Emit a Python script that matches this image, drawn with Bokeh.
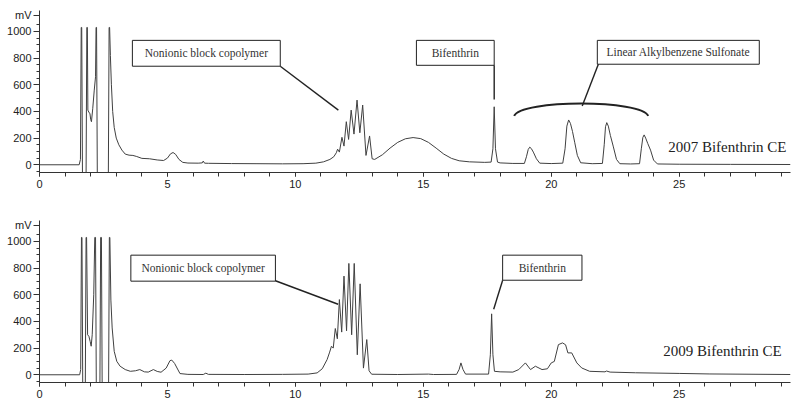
from bokeh.plotting import figure
from bokeh.layouts import column
from bokeh.models import Range1d, FixedTicker
from bokeh.core.properties import value
from bokeh.embed import file_html
from bokeh.resources import INLINE

# ---------------- data: 2007 chromatogram (time in min, signal in mV) ----------------
t2007 = [0.0, 1.55, 1.60, 1.63, 1.65, 1.68, 1.82, 1.85, 1.87, 1.89, 1.94, 1.97, 2.00, 2.03, 2.08,
         2.14, 2.19, 2.21, 2.23, 2.26, 2.69, 2.72, 2.74, 2.77, 2.81, 2.86, 2.92, 3.00, 3.10, 3.22,
         3.35, 3.50, 3.65, 3.80, 4.00, 4.30, 4.60, 4.85, 5.00, 5.12, 5.22, 5.32, 5.45, 5.60, 5.80,
         6.20, 6.36, 6.40, 6.45, 6.60, 7.50, 8.50, 9.50, 10.30, 10.80, 11.10, 11.35, 11.50, 11.60,
         11.65, 11.72, 11.82, 11.90, 11.99, 12.08, 12.18, 12.29, 12.41, 12.52, 12.63, 12.76, 12.90,
         13.00, 13.10, 13.40, 13.70, 14.00, 14.30, 14.60, 14.90, 15.20, 15.50, 15.80, 16.10, 16.40,
         16.80, 17.40, 17.65, 17.72, 17.77, 17.82, 17.90, 18.00, 18.50, 18.95, 19.03, 19.10, 19.16,
         19.22, 19.30, 19.42, 19.55, 20.00, 20.45, 20.54, 20.61, 20.68, 20.75, 20.83, 20.92, 21.02,
         21.15, 21.60, 22.00, 22.07, 22.12, 22.17, 22.23, 22.31, 22.42, 22.55, 22.68, 23.10, 23.45,
         23.52, 23.58, 23.63, 23.69, 23.77, 23.88, 24.00, 24.15, 25.00, 27.00, 29.35]
mv2007 = [0, 0, 40, 1030, 1030, -100, -100, 1030, 1030, 410, 390, 386, 340, 323, 420,
          560, 660, 1030, 1030, -100, -100, 1030, 1030, 820, 600, 400, 280, 200, 150, 110,
          80, 72, 70, 62, 48, 45, 36, 32, 50, 82, 92, 78, 40, 18, 13,
          12, 14, 28, 12, 11, 9, 8, 7, 8, 12, 22, 40, 60, 90,
          117, 95, 206, 140, 323, 190, 410, 230, 485, 240, 448, 70, 216,
          45, 40, 75, 125, 168, 195, 204, 196, 168, 125, 80, 48, 30,
          22, 18, 20, 120, 435, 120, 20, 14, 10, 10, 60, 115, 132,
          122, 95, 45, 12, 9, 12, 120, 290, 336, 310, 250, 165, 70,
          15, 8, 10, 150, 285, 316, 290, 220, 140, 40, 8, 6, 8,
          120, 205, 224, 200, 160, 110, 35, 6, 4, 3, 2]

# ---------------- data: 2009 chromatogram ----------------
t2009 = [0.0, 1.57, 1.61, 1.64, 1.66, 1.69, 1.79, 1.82, 1.84, 1.88, 1.93, 1.98, 2.02, 2.06, 2.12,
         2.16, 2.19, 2.22, 2.36, 2.39, 2.42, 2.45, 2.70, 2.73, 2.75, 2.79, 2.84, 2.92, 3.02, 3.15,
         3.35, 3.55, 3.75, 3.92, 4.10, 4.25, 4.45, 4.60, 4.75, 4.95, 5.10, 5.17, 5.28, 5.49, 5.80,
         6.40, 6.50, 6.60, 8.00, 9.50, 10.50, 10.85, 11.05, 11.24, 11.34, 11.41, 11.48, 11.56, 11.64,
         11.72, 11.81, 11.90, 12.00, 12.09, 12.20, 12.30, 12.42, 12.53, 12.66, 12.79, 12.88, 12.98,
         14.00, 15.20, 15.40, 16.30, 16.40, 16.47, 16.55, 16.65, 17.55, 17.62, 17.67, 17.72, 17.78,
         18.00, 18.50, 18.73, 18.99, 19.19, 19.38, 19.64, 19.85, 20.00, 20.12, 20.28, 20.44, 20.56,
         20.65, 20.80, 21.00, 21.19, 21.50, 22.10, 22.16, 22.30, 23.30, 25.00, 26.20, 29.35]
mv2009 = [0, 0, 40, 1030, 1030, -100, -100, 1030, 1030, 300, 289, 250, 214, 300, 600,
          1030, 1030, -100, -100, 1030, 1030, -100, -100, 1030, 1030, 560, 351, 176, 101, 64,
          39, 26, 30, 39, 22, 20, 39, 25, 19, 50, 106, 110, 85, 9, 3,
          2, 12, 3, 2, 3, 5, 14, 45, 114, 170, 214, 200, 347, 270,
          564, 320, 740, 330, 835, 300, 835, 150, 682, 50, 264, 30, 4,
          2, 5, 2, 3, 40, 89, 40, 5, 5, 150, 457, 150, 26,
          22, 20, 39, 89, 39, 64, 39, 45, 89, 100, 226, 239, 225,
          164, 164, 89, 51, 26, 22, 28, 20, 15, 10, 6, 2]

# ---------------- axis ticks ----------------
x_major = [0, 5, 10, 15, 20, 25]
x_minor = list(range(0, 30))
y_major = [0, 200, 400, 600, 800, 1000, 1120]
y_minor = list(range(-50, 1100, 50))
y_overrides = {1120: "mV"}

# ---------------- annotations (data units) ----------------
box07_left = [3.63, 14.73, 21.80]
box07_right = [9.41, 17.77, 28.13]
box07_bottom = [739, 746, 754]
box07_top = [933, 933, 933]
box07_text = ["Nonionic block copolymer", "Bifenthrin", "Linear Alkylbenzene Sulfonate"]
lead07_x0 = [9.41, 17.77, 21.84]
lead07_y0 = [739, 746, 754]
lead07_x1 = [11.68, 17.77, 21.21]
lead07_y1 = [410, 490, 440]
brace07 = dict(x0=[18.55], y0=[366], x1=[23.79], y1=[366], cx0=[18.79], cy0=[490], cx1=[23.55], cy1=[490])
title07 = "2007 Bifenthrin CE"

box09_left = [3.57, 18.10]
box09_right = [9.22, 21.20]
box09_bottom = [702, 709]
box09_top = [897, 897]
box09_text = ["Nonionic block copolymer", "Bifenthrin"]
lead09_x0 = [9.22, 18.10]
lead09_y0 = [705, 709]
lead09_x1 = [11.67, 17.75]
lead09_y1 = [529, 491]
title09 = "2009 Bifenthrin CE"

LINE = "#404040"
INK = "#222222"
SANS = "Liberation Sans"
SERIF = "Liberation Serif"


def make_fig(t, mv, bl, br, bb, bt, btext, lx0, ly0, lx1, ly1, title, title_x, title_y,
             border_top, brace=None):
    p = figure(width=792, height=border_top + 162 + 20, output_backend="svg",
               toolbar_location=None,
               x_range=Range1d(0, 29.35), y_range=Range1d(-58, 1157),
               min_border_left=39, min_border_right=2, min_border_top=border_top,
               min_border_bottom=20)
    p.outline_line_color = None
    p.xgrid.visible = False
    p.ygrid.visible = False
    p.background_fill_color = "white"
    p.border_fill_color = "white"

    p.line(t, mv, line_color=LINE, line_width=1.0)

    # annotation boxes and leaders
    p.quad(left=bl, right=br, bottom=bb, top=bt, fill_color="white", line_color=INK, line_width=1)
    p.text(x=[(a + b) / 2 for a, b in zip(bl, br)], y=[(a + b) / 2 for a, b in zip(bb, bt)],
           text=btext, text_font=value(SERIF), text_font_size="11.5px", text_align="center",
           text_baseline="middle", text_color="#333333")
    p.segment(x0=lx0, y0=ly0, x1=lx1, y1=ly1, line_color=INK, line_width=1.4)
    if brace is not None:
        p.bezier(line_color=INK, line_width=2, **brace)
    p.text(x=[title_x], y=[title_y], text=[title], text_font=value(SERIF),
           text_font_size="15px", text_align="left", text_baseline="middle", text_color=INK)

    xa = p.xaxis[0]
    xa.ticker = FixedTicker(ticks=x_major, minor_ticks=x_minor)
    xa.major_tick_in = 0
    xa.major_tick_out = 4
    xa.minor_tick_in = 0
    xa.minor_tick_out = 4
    xa.major_label_standoff = 3
    xa.major_label_text_font = SANS
    xa.major_label_text_font_size = "11px"
    xa.major_label_text_color = INK
    xa.axis_line_color = "#333333"
    xa.major_tick_line_color = "#333333"
    xa.minor_tick_line_color = "#333333"

    ya = p.yaxis[0]
    ya.ticker = FixedTicker(ticks=y_major, minor_ticks=y_minor)
    ya.major_label_overrides = y_overrides
    ya.major_tick_in = 0
    ya.major_tick_out = 6
    ya.minor_tick_in = 0
    ya.minor_tick_out = 3
    ya.major_label_standoff = 2
    ya.major_label_text_font = SANS
    ya.major_label_text_font_size = "11px"
    ya.major_label_text_color = INK
    ya.axis_line_color = "#333333"
    ya.major_tick_line_color = "#333333"
    ya.minor_tick_line_color = "#333333"
    return p


p1 = make_fig(t2007, mv2007, box07_left, box07_right, box07_bottom, box07_top, box07_text,
              lead07_x0, lead07_y0, lead07_x1, lead07_y1, title07, 24.57, 134, 10, brace=brace07)
p2 = make_fig(t2009, mv2009, box09_left, box09_right, box09_bottom, box09_top, box09_text,
              lead09_x0, lead09_y0, lead09_x1, lead09_y1, title09, 24.38, 176, 28)

layout = column(p1, p2, spacing=0)
open("out.html", "w").write(file_html(layout, INLINE))
